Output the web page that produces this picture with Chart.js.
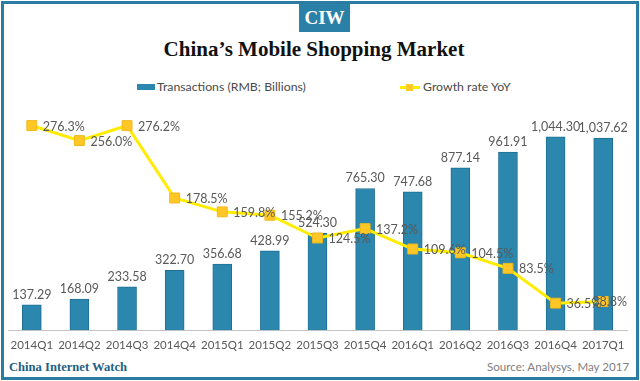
<!DOCTYPE html>
<html>
<head>
<meta charset="utf-8">
<script src="https://cdn.jsdelivr.net/npm/chart.js@4/dist/chart.umd.min.js"></script>
<style>
  html, body { margin:0; padding:0; background:#fff; }
  body { width:640px; height:381px; position:relative; overflow:hidden; font-family: Lato, "Open Sans", sans-serif; }
  #frame { position:absolute; left:1px; top:1px; width:632px; height:373px; border:3px solid #2a7ca3; }
  #badge { position:absolute; left:299px; top:4px; width:51px; height:28px; background:#2b80a8; color:#fff;
           font-family:"Liberation Serif", serif; font-weight:bold; font-size:19px; line-height:28px; text-align:center; }
  #title { position:absolute; left:0; width:628px; top:36px; text-align:center; font-family:"Liberation Serif", serif;
           font-weight:bold; font-size:21px; color:#111; line-height:26px; }
  .leg { position:absolute; top:79px; font-size:12.3px; color:#4a4a4a; line-height:16px; white-space:nowrap; }
  #legBarIcon { position:absolute; left:137px; top:84px; width:18px; height:6px; background:#2b87ad; border:0; }
  #legLineIcon { position:absolute; left:400px; top:86px; width:20px; height:3px; background:#ffec00; }
  #legLineMark { position:absolute; left:406px; top:84px; width:7px; height:7px; background:#ffc926; }
  #footL { position:absolute; left:9px; top:360px; font-family:"Liberation Serif", serif; font-weight:bold; font-size:12.6px; color:#1d5f86; }
  #footR { position:absolute; left:487px; top:360px; font-size:11.6px; color:#808080; white-space:nowrap; }
  canvas { position:absolute; left:0; top:0; }
</style>
</head>
<body>
<div id="frame"></div>
<div id="badge">CIW</div>
<div id="title">China’s Mobile Shopping Market</div>
<div id="legBarIcon"></div>
<div class="leg" style="left:157px">Transactions (RMB; Billions)</div>
<div id="legLineIcon"></div><div id="legLineMark"></div>
<div class="leg" style="left:423px">Growth rate YoY</div>
<div id="footL">China Internet Watch</div>
<div id="footR">Source: Analysys, May 2017</div>
<canvas id="c" width="640" height="381"></canvas>
<script>
const categories = ["2014Q1","2014Q2","2014Q3","2014Q4","2015Q1","2015Q2","2015Q3","2015Q4","2016Q1","2016Q2","2016Q3","2016Q4","2017Q1"];
const transactions = [137.29,168.09,233.58,322.70,356.68,428.99,524.30,765.30,747.68,877.14,961.91,1044.30,1037.62];
const growthRate = [276.3,256.0,276.2,178.5,159.8,155.2,124.5,137.2,109.6,104.5,83.5,36.5,38.8];

const labelFont = "12.5px Lato, 'Open Sans', sans-serif";
const valueLabels = {
  id: 'valueLabels',
  afterDatasetsDraw(chart) {
    const ctx = chart.ctx;
    ctx.save();
    ctx.font = labelFont;
    ctx.fillStyle = '#595959';
    const barMeta = chart.getDatasetMeta(1);
    barMeta.data.forEach((el, i) => {
      ctx.textAlign = 'center';
      ctx.textBaseline = 'bottom';
      const v = transactions[i].toLocaleString('en-US', {minimumFractionDigits:2, maximumFractionDigits:2});
      ctx.fillText(v, el.x, el.y - 4);
    });
    const lineMeta = chart.getDatasetMeta(0);
    const right = chart.chartArea.right;
    lineMeta.data.forEach((el, i) => {
      ctx.textAlign = 'left';
      ctx.textBaseline = 'middle';
      const t = growthRate[i].toFixed(1) + '%';
      const w = ctx.measureText(t).width;
      const x = Math.min(el.x + 11, right - w);
      ctx.fillText(t, x, el.y + 1);
    });
    ctx.restore();
  }
};

new Chart(document.getElementById('c'), {
  data: {
    labels: categories,
    datasets: [
      {
        type: 'line', label: 'Growth rate YoY', data: growthRate, yAxisID: 'y2', order: 0,
        borderColor: '#ffec00', borderWidth: 3, tension: 0,
        pointStyle: 'rect', pointRadius: 7, pointBackgroundColor: '#ffc726', pointBorderColor: '#f2b81c', pointBorderWidth: 1
      },
      {
        type: 'bar', label: 'Transactions (RMB; Billions)', data: transactions, yAxisID: 'y', order: 1,
        backgroundColor: '#2b87ad', borderColor: '#1f6f93', borderWidth: 1, barThickness: 19
      }
    ]
  },
  options: {
    responsive: false, animation: false,
    layout: { padding: { left: 8, right: 13, top: 108, bottom: 21 } },
    plugins: { legend: { display: false }, tooltip: { enabled: false } },
    scales: {
      x: {
        grid: { display: false, drawTicks: false },
        border: { display: true, color: '#c4c4c4', width: 1 },
        ticks: { color: '#595959', font: { family: "Lato, 'Open Sans', sans-serif", size: 11.5 }, padding: 8, maxRotation: 0, autoSkip: false }
      },
      y: { display: false, min: 0, max: 1200 },
      y2: { display: false, min: 0, max: 300, position: 'right' }
    }
  },
  plugins: [valueLabels]
});
</script>
</body>
</html>
